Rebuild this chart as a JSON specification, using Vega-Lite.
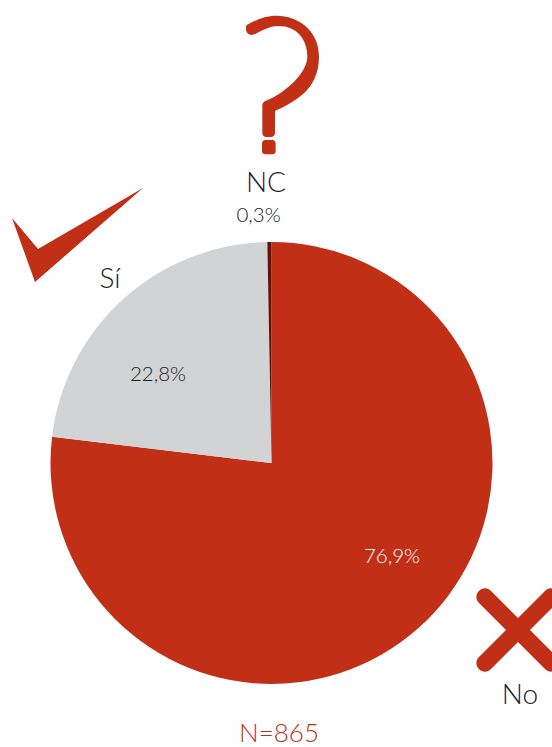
{
"$schema":"https://vega.github.io/schema/vega-lite/v6.json",
"width":552,"height":747,"padding":0,"autosize":{"type":"none"},
"background":"#ffffff",
"config":{"view":{"stroke":null},"text":{"font":"Lato","fontWeight":300}},
"datasets":{"answers":[{"answer":"No","rank":1,"pct":76.9,"label":"76,9%"},{"answer":"Sí","rank":2,"pct":22.8,"label":"22,8%"},{"answer":"NC","rank":3,"pct":0.3,"label":"0,3%"}],"sample":[{"note":"N=865"}]},
"data":{"name":"answers"},
"layer":[
{"mark":{"type":"arc","outerRadius":221},"encoding":{
 "x":{"datum":271.5,"type":"quantitative","scale":{"domain":[0,552],"nice":false},"axis":null},
 "y":{"datum":463,"type":"quantitative","scale":{"domain":[747,0],"nice":false},"axis":null},
 "theta":{"field":"pct","type":"quantitative","stack":true,"scale":{"domain":[0,100]}},
 "order":{"field":"rank"},
 "color":{"field":"answer","type":"nominal","legend":null,"scale":{"domain":["No","Sí","NC"],"range":["#C12F17","#D1D3D4","#6B0F05"]}}}},
{"transform":[{"filter":"datum.answer==='NC'"}],"mark":{"type":"point","filled":true,"opacity":1,"size":0.4444,"color":"#C12F17","shape":"M-73,-180 C-78,-172 -76,-150 -58,-150 C-40,-152 -15,-177 22,-177 C75,-177 109,-140 109,-85 C109,-40 50,20 -15,47 C-22,50 -26,55 -26,62 L-26,145 C-26,152 -20,156 -14,156 L0,156 C6,156 12,152 12,145 L12,78 C70,50 144,15 144,-85 C144,-165 80,-208 17,-208 C-20,-208 -45,-195 -73,-180 Z M-17,165 L4,165 C10,165 14,170 14,176 L14,198 C14,204 10,208 4,208 L-17,208 C-23,208 -27,204 -27,198 L-27,176 C-27,170 -23,165 -17,165 Z"},"encoding":{"x":{"datum":271,"scale":{"domain":[0,552],"nice":false}},"y":{"datum":85,"scale":{"domain":[747,0],"nice":false}}}},
{"transform":[{"filter":"datum.answer==='Sí'"}],"mark":{"type":"point","filled":true,"opacity":1,"size":4,"color":"#C12F17","shape":"M-65,-17 L-39,14 L66,-47 L-42,47 Z"},"encoding":{"x":{"datum":77,"scale":{"domain":[0,552],"nice":false}},"y":{"datum":235,"scale":{"domain":[747,0],"nice":false}}}},
{"transform":[{"filter":"datum.answer==='No'"}],"mark":{"type":"point","filled":true,"opacity":1,"size":4,"color":"#C12F17","shape":"M0,-12 L27,-39 C35,-47 47,-35 39,-27 L12,0 L39,27 C47,35 35,47 27,39 L0,12 L-27,39 C-35,47 -47,35 -39,27 L-12,0 L-39,-27 C-47,-35 -35,-47 -27,-39 Z"},"encoding":{"x":{"datum":518,"scale":{"domain":[0,552],"nice":false}},"y":{"datum":630,"scale":{"domain":[747,0],"nice":false}}}},
{"transform":[{"filter":"datum.answer==='NC'"}],"mark":{"type":"text","fontSize":28,"color":"#222222"},"encoding":{"x":{"datum":266,"scale":{"domain":[0,552],"nice":false}},"y":{"datum":183.5,"scale":{"domain":[747,0],"nice":false}},"text":{"field":"answer"}}},
{"transform":[{"filter":"datum.answer==='Sí'"}],"mark":{"type":"text","fontSize":28,"color":"#222222"},"encoding":{"x":{"datum":110,"scale":{"domain":[0,552],"nice":false}},"y":{"datum":279.5,"scale":{"domain":[747,0],"nice":false}},"text":{"field":"answer"}}},
{"transform":[{"filter":"datum.answer==='No'"}],"mark":{"type":"text","fontSize":28,"color":"#222222"},"encoding":{"x":{"datum":520,"scale":{"domain":[0,552],"nice":false}},"y":{"datum":695.5,"scale":{"domain":[747,0],"nice":false}},"text":{"field":"answer"}}},
{"transform":[{"filter":"datum.answer==='NC'"}],"mark":{"type":"text","fontSize":20.5,"color":"#222222"},"encoding":{"x":{"datum":258.5,"scale":{"domain":[0,552],"nice":false}},"y":{"datum":216,"scale":{"domain":[747,0],"nice":false}},"text":{"field":"label"}}},
{"transform":[{"filter":"datum.answer==='Sí'"}],"mark":{"type":"text","fontSize":20.5,"color":"#222222"},"encoding":{"x":{"datum":158,"scale":{"domain":[0,552],"nice":false}},"y":{"datum":375,"scale":{"domain":[747,0],"nice":false}},"text":{"field":"label"}}},
{"transform":[{"filter":"datum.answer==='No'"}],"mark":{"type":"text","fontSize":20.5,"color":"#ffffff"},"encoding":{"x":{"datum":392,"scale":{"domain":[0,552],"nice":false}},"y":{"datum":557,"scale":{"domain":[747,0],"nice":false}},"text":{"field":"label"}}},
{"data":{"name":"sample"},"mark":{"type":"text","fontSize":26,"color":"#C12F17"},"encoding":{"x":{"datum":279,"scale":{"domain":[0,552],"nice":false}},"y":{"datum":734,"scale":{"domain":[747,0],"nice":false}},"text":{"field":"note"}}}
]
}
